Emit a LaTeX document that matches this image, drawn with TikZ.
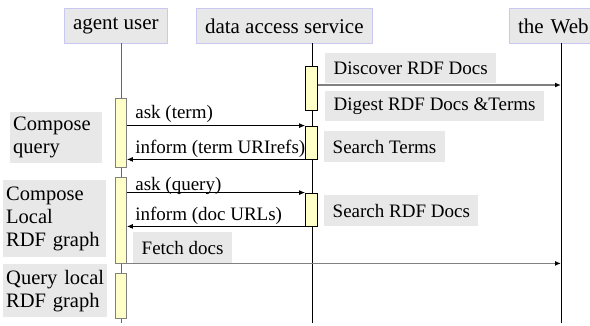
\documentclass[tikz,border=0pt]{standalone}
\usepackage{fontspec}
\setmainfont{Liberation Serif}
\usepackage{xcolor}
\usetikzlibrary{positioning,calc,arrows.meta}
\definecolor{boxgray}{HTML}{E8E8E8}
\definecolor{headedge}{HTML}{C8C8F0}
\definecolor{actfill}{HTML}{FFFFC8}
\definecolor{lifegray}{HTML}{666666}

\begin{document}
\begin{tikzpicture}[
    x=1pt, y=-1pt,
    header/.style={draw=headedge, fill=boxgray, line width=1pt, minimum height=35pt,
                   inner xsep=8.5pt, anchor=north west, font=\rmfamily\fontsize{21}{24}\selectfont},
    note/.style={fill=boxgray, minimum height=30pt, inner xsep=8.5pt,
                 anchor=north west, font=\rmfamily\fontsize{19}{22}\selectfont},
    task/.style={fill=boxgray, anchor=north west, inner xsep=3pt, align=left,
                 font=\rmfamily\fontsize{20.5}{23}\selectfont},
    act/.style={draw, fill=actfill, line width=0.8pt, inner sep=0pt},
    life/.style={line width=1pt},
    call/.style={line width=0.9pt, -{Latex[length=6pt,width=5pt]}},
    webcall/.style={line width=1.3pt, draw=gray, -{Latex[length=6pt,width=5pt,color=black]}},
    said/.style={anchor=base west, inner xsep=8pt, inner ysep=0pt,
                 font=\rmfamily\fontsize{19}{22}\selectfont},
  ]
  \useasboundingbox (0,0) rectangle (590,325);

  % Participants
  \node[header] (agent) at (64,8) {agent user};
  \node[header] (das) at (196,8) {data access service};
  \node[header, text width=78pt, align=left] (web) at (509,8) {the Web};

  % Lifelines
  \coordinate (agenttop) at (121,43);
  \coordinate (agentend) at (121,323);
  \coordinate (dastop) at (312,43);
  \coordinate (dasend) at (312,323);
  \coordinate (webtop) at (561,43);
  \coordinate (webend) at (561,323);
  \draw[life, lifegray] (agenttop) -- (agentend);
  \draw[life] (dastop) -- (dasend);
  \draw[life] (webtop) -- (webend);

  % Activations
  \node[act, draw=gray, minimum width=11pt, minimum height=69pt] (au1) at (121,132.5) {};
  \node[act, draw=gray, minimum width=11pt, minimum height=86pt] (au2) at (121,220) {};
  \node[act, draw=gray, minimum width=11pt, minimum height=45pt] (au3) at (121,295.5) {};
  \node[act, minimum width=12pt, minimum height=44pt] (ds1) at (311.5,88) {};
  \node[act, minimum width=12pt, minimum height=33pt] (ds2) at (311.5,142.5) {};
  \node[act, minimum width=12pt, minimum height=33pt] (ds3) at (311.5,209.5) {};

  % Service steps
  \node[note] (discover) at (325,53) {Discover RDF Docs};
  \node[note] (digest) at (325,91) {Digest RDF Docs \&Terms};
  \node[note, minimum height=31pt] (terms) at (324,131) {Search Terms};
  \node[note, minimum height=31pt] (docs) at (324,195) {Search RDF Docs};
  \node[note, minimum height=31pt] (fetch) at (133,232) {Fetch docs};

  % Agent tasks
  \node[task, text width=86pt, minimum height=51pt] (compose) at (10,112) {Compose\\query};
  \node[task, text width=97pt, minimum height=77pt] (graph) at (3,180) {Compose\\Local\\RDF graph};
  \node[task, text width=98pt, minimum height=53pt] (ask) at (3,264) {Query local\\RDF graph};

  % Messages
  \draw[webcall] ([yshift=3pt]ds1.east) -- ([yshift=3pt]ds1.east -| webtop);
  \draw[call] (au1.east |- ds2.north west) node[said, yshift=7pt] {ask (term)} -- (ds2.north west);
  \draw[call] (ds2.south west) -- (ds2.south west -| au1.east)
    node[said, yshift=6pt] {inform (term URIrefs)};
  \draw[call] (au2.east |- ds3.north west) node[said, yshift=2pt] {ask (query)} -- (ds3.north west);
  \draw[call] (ds3.south west) -- (ds3.south west -| au2.east)
    node[said, yshift=6pt] {inform (doc URLs)};
  \draw[webcall] (au2.south east) -- (au2.south east -| webtop);

\end{tikzpicture}
\end{document}
